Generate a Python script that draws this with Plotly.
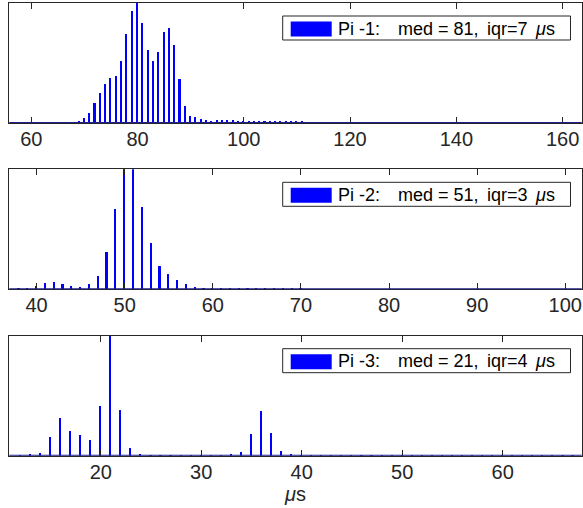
import plotly.graph_objects as go

# ---------------- data ----------------
p1_x = list(range(60, 164))
p1_y = [0, 0, 0, 1, 1, 1, 1, 2, 3, 6,
        15, 30, 59, 90, 117, 136, 142, 185, 267, 337,
        400, 300, 218, 185, 213, 273, 285, 235, 132, 50,
        22, 18, 13, 10, 7, 9, 10, 10, 8, 7,
        6, 5, 5, 5, 5, 5, 4, 4, 6, 5,
        5, 4, 3, 2, 2, 3, 3, 2, 2, 1,
        1] + [1] * 43

p2_x = list(range(37, 102))
p2_y = [0, 1, 3, 8, 18, 22, 16, 8, 6, 14,
        39, 112, 241, 420, 400, 247, 139, 70, 45, 26,
        14, 6, 3, 2, 3, 2, 3, 3, 3, 3,
        3, 3, 3, 1] + [0] * 31

p3_x = list(range(11, 68))
p3_y = [0, 2, 5, 8, 56, 115, 76, 64, 47, 151,
        365, 138, 25, 5, 2, 2, 2, 2, 2, 1,
        1, 1, 4, 13, 65, 134, 69, 16, 6, 1] + [1] * 27

p1_ticks = [60, 80, 100, 120, 140, 160]
p2_ticks = [40, 50, 60, 70, 80, 90, 100]
p3_ticks = [20, 30, 40, 50, 60]

labels_a = ["Pi -1:", "Pi -2:", "Pi -3:"]
labels_b = ["med = 81,", "med = 51,", "med = 21,"]
labels_c = ["iqr=7", "iqr=3", "iqr=4"]
unit_label = "<i>μ</i>s"
x_title = "<i>μ</i>s"

# ---------------- layout helpers ----------------
W, H = 583, 508
def fx(px):
    return px / W
def fy(py):
    return 1 - py / H

AX = "#262626"
BLUE = "#0000ff"
FONT = "Liberation Sans, Arial, Helvetica, sans-serif"

panels = [
    dict(x=p1_x, y=p1_y, ticks=p1_ticks, rng=[55.86, 163.6], bw=0.3, top=3.0, bot=123.0),
    dict(x=p2_x, y=p2_y, ticks=p2_ticks, rng=[36.9, 101.86], bw=0.19, top=169.3, bot=289.3),
    dict(x=p3_x, y=p3_y, ticks=p3_ticks, rng=[10.9, 67.86], bw=0.16, top=335.7, bot=455.7),
]

fig = go.Figure()
shapes = []
annotations = []
L, R = 9.3, 581.7

for i, p in enumerate(panels):
    n = i + 1
    xa = "x" if n == 1 else f"x{n}"
    ya = "y" if n == 1 else f"y{n}"
    fig.add_trace(go.Bar(
        x=p["x"], y=p["y"], width=p["bw"],
        marker=dict(color=BLUE, line=dict(width=0, color=BLUE)),
        xaxis=xa, yaxis=ya, showlegend=False, hoverinfo="skip"))

    xkey = "xaxis" if n == 1 else f"xaxis{n}"
    ykey = "yaxis" if n == 1 else f"yaxis{n}"
    xdict = dict(
        domain=[fx(L), fx(R)], anchor=ya, range=p["rng"],
        tickmode="array", tickvals=p["ticks"], ticktext=[str(t) for t in p["ticks"]],
        ticks="inside", ticklen=6, tickwidth=1, tickcolor=AX,
        showline=True, linecolor=AX, linewidth=1, mirror="ticks",
        showgrid=False, zeroline=False,
        tickfont=dict(family=FONT, size=20, color=AX),
        ticklabelstandoff=-2, automargin=False,
    )
    if n == 3:
        xdict["title"] = dict(text=x_title, font=dict(family=FONT, size=20, color=AX), standoff=5)
    fig.layout[xkey] = xdict
    fig.layout[ykey] = dict(
        domain=[fy(p["bot"]), fy(p["top"])], anchor=xa, range=[0, 360],
        showticklabels=False, ticks="", showgrid=False, zeroline=False,
        showline=True, linecolor=AX, linewidth=1, mirror=True, automargin=False,
    )
    # navy baseline (zero-height bar edges)
    shapes.append(dict(type="line", xref=f"{xa} domain", yref=ya, x0=0, x1=1, y0=0, y1=0,
                       line=dict(color="#1e1e8a", width=2), layer="above"))
    # legend box
    bt = p["top"] + 13
    shapes.append(dict(type="rect", xref="paper", yref="paper",
                       x0=fx(282.7), x1=fx(570.5), y0=fy(bt + 24), y1=fy(bt),
                       line=dict(color=AX, width=1), fillcolor="white", layer="above"))
    shapes.append(dict(type="rect", xref="paper", yref="paper",
                       x0=fx(290.7), x1=fx(331.7), y0=fy(bt + 20.5), y1=fy(bt + 5.5),
                       line=dict(width=0), fillcolor=BLUE, layer="above"))
    ty = fy(bt + 12.5)
    lf = dict(family=FONT, size=18, color="#000000")
    for txt, xp, anc in [(labels_a[i], 335.5, "left"), (labels_b[i], 395.5, "left"),
                         (labels_c[i], 485.0, "left"), (unit_label, 533.0, "left")]:
        annotations.append(dict(xref="paper", yref="paper", x=fx(xp), y=ty, text=txt,
                                showarrow=False, xanchor=anc, yanchor="middle", font=lf))

fig.update_layout(
    width=W, height=H, margin=dict(l=0, r=0, t=0, b=0),
    paper_bgcolor="white", plot_bgcolor="white",
    bargap=0, shapes=shapes, annotations=annotations, showlegend=False,
)

fig.write_html("out.html", config={"displayModeBar": False},
               post_script="document.body.style.margin='0';document.body.style.overflow='hidden';")
